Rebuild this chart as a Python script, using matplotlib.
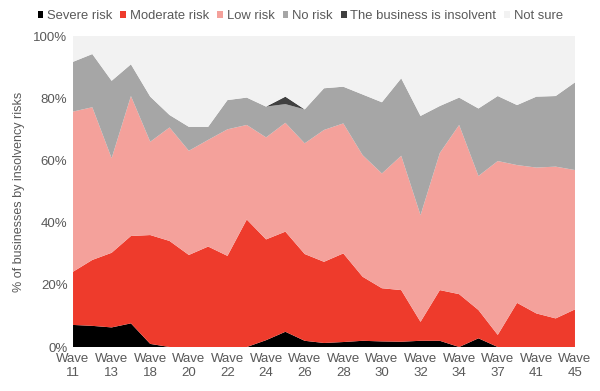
import matplotlib
matplotlib.use('Agg')
import matplotlib.pyplot as plt
from matplotlib.ticker import FuncFormatter

plt.rcParams['font.family'] = ['Liberation Sans', 'DejaVu Sans']

waves = ['11', '12', '13', '17', '18', '19', '20', '21', '22', '23', '24', '25', '26', '27',
         '28', '29', '30', '31', '32', '33', '34', '35', '37', '39', '41', '43', '45']

severe = [7.1, 6.8, 6.3, 7.6, 1.0, 0, 0, 0, 0, 0, 2.2, 4.9, 2.0, 1.3,
          1.6, 2.0, 1.8, 1.7, 2.0, 2.0, 0, 2.8, 0, 0, 0, 0, 0]
moderate = [17.1, 21.2, 24.0, 28.1, 35.0, 34.1, 29.6, 32.3, 29.3, 41.0, 32.4, 32.2, 27.9, 26.1,
            28.5, 20.6, 17.1, 16.6, 6.1, 16.3, 17.0, 9.1, 3.9, 14.2, 10.8, 9.2, 12.1]
low = [51.5, 49.1, 30.4, 45.0, 30.0, 36.5, 33.5, 34.3, 40.7, 30.4, 32.8, 35.0, 35.6, 42.4,
       41.8, 39.1, 36.9, 43.2, 34.3, 44.1, 54.4, 43.1, 55.9, 44.3, 46.9, 48.8, 44.8]
no_risk = [16.0, 17.1, 24.9, 10.2, 14.5, 4.0, 7.7, 4.2, 9.4, 8.8, 9.9, 6.0, 10.9, 13.4,
           11.8, 19.5, 22.9, 24.9, 31.9, 15.1, 8.8, 21.7, 20.9, 19.3, 22.8, 22.7, 28.2]
insolvent = [0, 0, 0, 0, 0, 0, 0, 0, 0, 0, 0, 2.4, 0, 0,
             0, 0, 0, 0, 0, 0, 0, 0, 0, 0, 0, 0, 0]
not_sure = [8.3, 5.8, 14.4, 9.1, 19.5, 25.4, 29.2, 29.2, 20.6, 19.8, 22.7, 19.5, 23.6, 16.8,
            16.3, 18.8, 21.3, 13.6, 25.7, 22.5, 19.8, 23.3, 19.3, 22.2, 19.5, 19.3, 14.9]

names = ['Severe risk', 'Moderate risk', 'Low risk', 'No risk',
         'The business is insolvent', 'Not sure']
colors = ['#000000', '#ee3b2c', '#f4a19b', '#a6a6a6', '#404040', '#f2f2f2']

fig = plt.figure(figsize=(6, 3.91), dpi=100)
ax = fig.add_axes([0.1217, 0.1125, 0.8366, 0.7954])

x = list(range(len(waves)))
ax.stackplot(x, severe, moderate, low, no_risk, insolvent, not_sure,
             colors=colors, labels=names, linewidth=0)

ax.set_xlim(0, len(waves) - 1)
ax.set_ylim(0, 100)
ax.set_yticks([0, 20, 40, 60, 80, 100])
ax.yaxis.set_major_formatter(FuncFormatter(lambda v, p: '%d%%' % v))
ax.set_xticks(x)
ax.set_xticklabels(['Wave\n' + w if i % 2 == 0 else '' for i, w in enumerate(waves)],
                   linespacing=1.3)
ax.tick_params(length=0, labelsize=9.5, colors='#595959', pad=4)
for s in ax.spines.values():
    s.set_visible(False)

ax.set_ylabel('% of businesses by insolvency risks', fontsize=9, color='#595959', labelpad=6)

fig.legend(loc='upper left', bbox_to_anchor=(0.043, 1.005), ncol=6, frameon=False,
           fontsize=9.4, handlelength=0.45, handleheight=0.45, handletextpad=0.3,
           columnspacing=0.6, labelcolor='#595959')

fig.savefig('out.png', dpi=100)
